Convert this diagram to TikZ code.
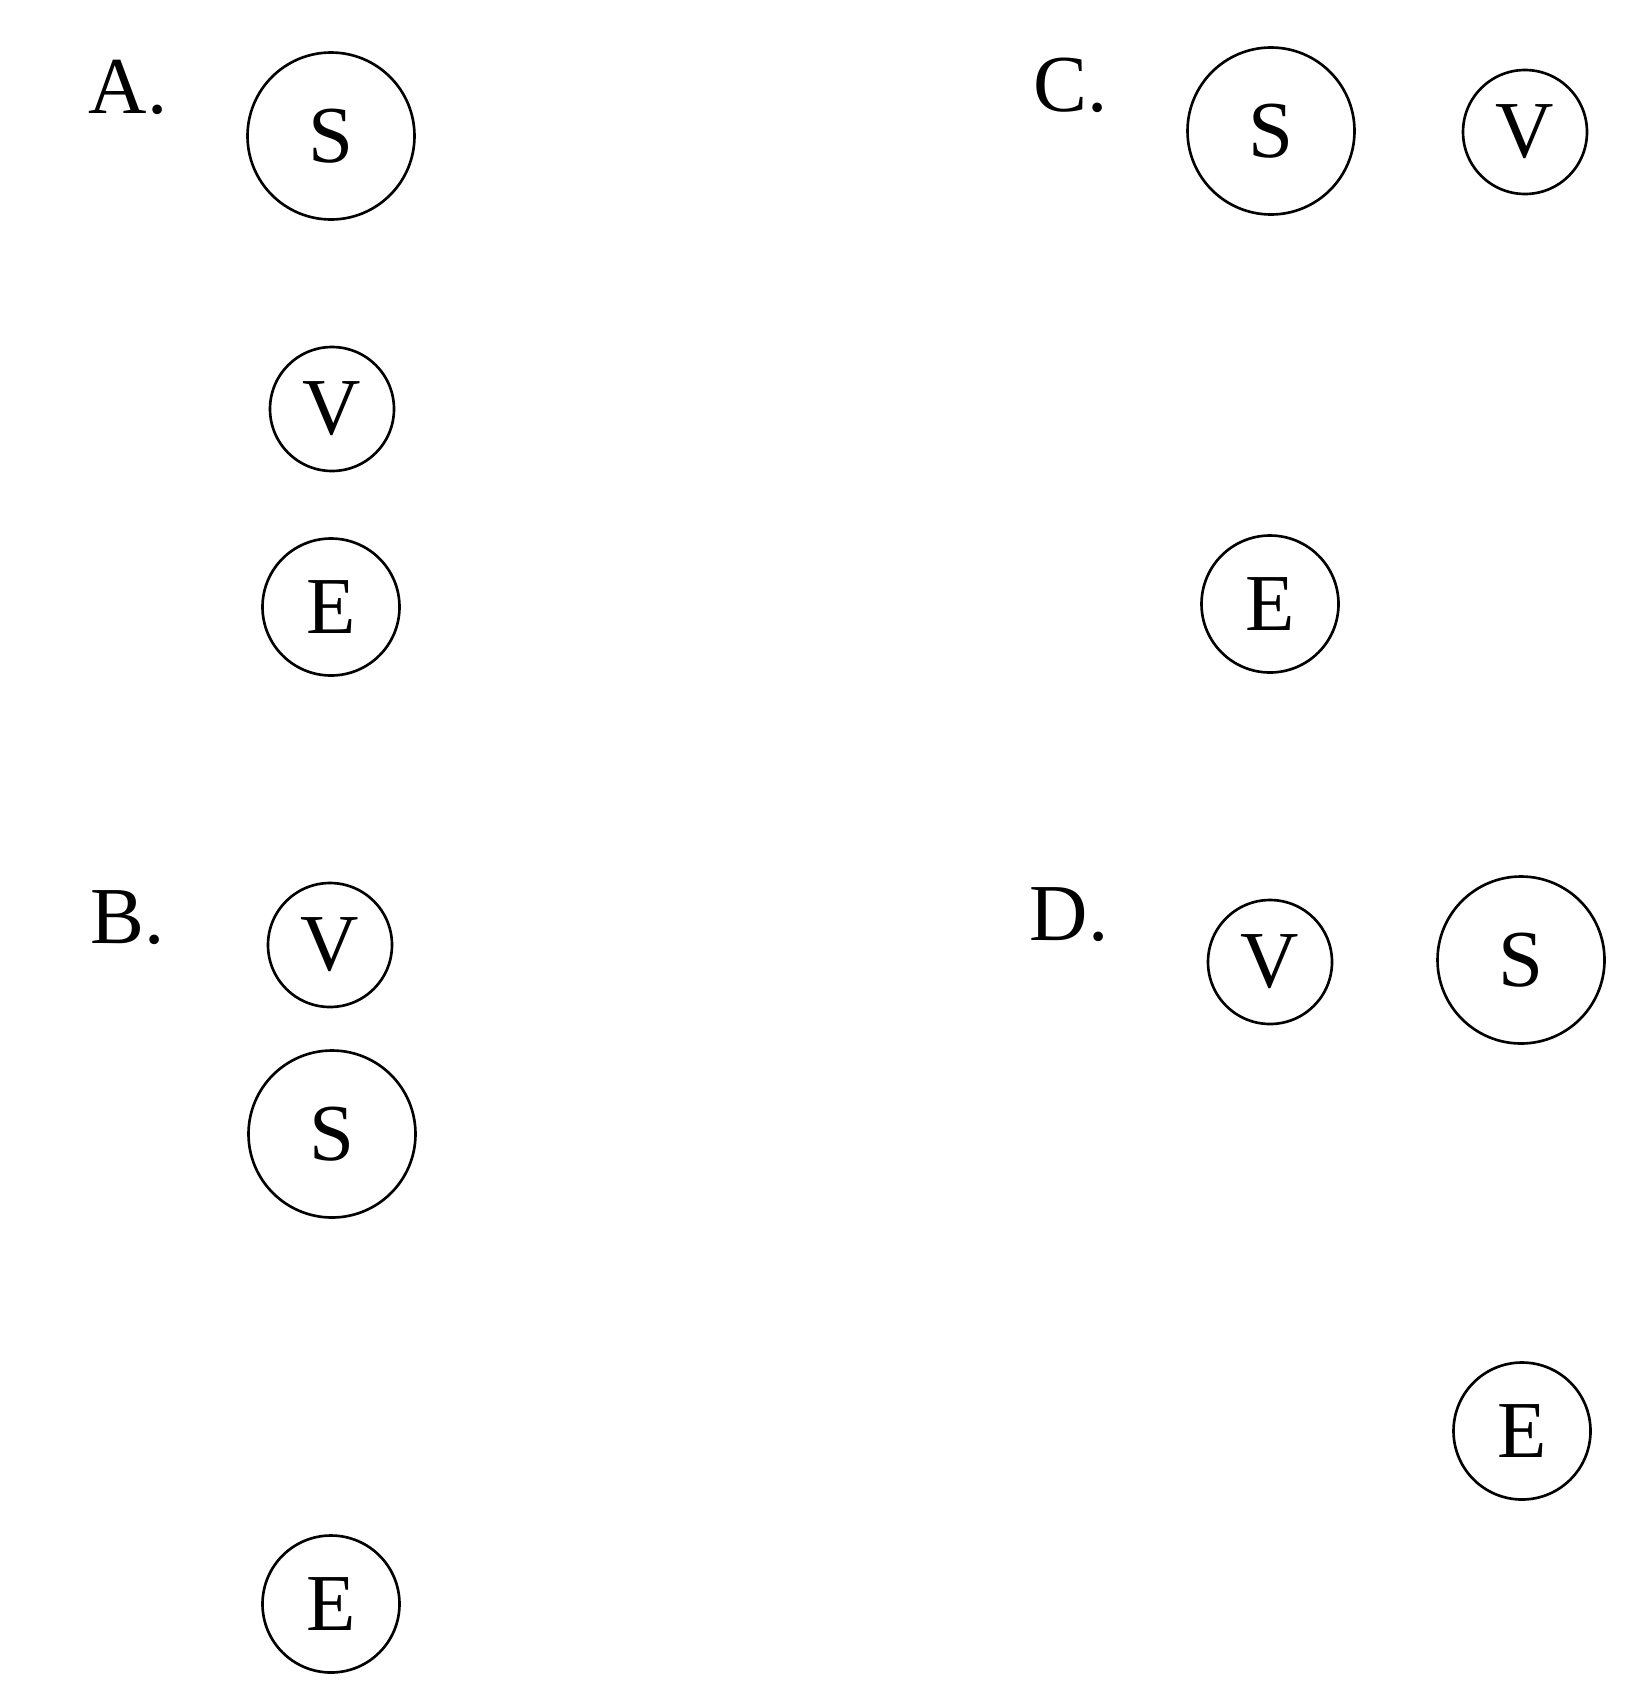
\documentclass[tikz,border=0pt]{standalone}
\usepackage{fontspec}
\setmainfont{Liberation Serif}
\begin{document}
\begin{tikzpicture}[x=1cm,y=1cm,
  every node/.style={font=\fontsize{23}{26}\selectfont},
  sbig/.style={draw, circle, line width=0.75pt, inner sep=0pt, minimum size=1.67cm},
  vsmall/.style={draw, circle, line width=0.75pt, inner sep=0pt, minimum size=1.24cm},
  emid/.style={draw, circle, line width=0.75pt, inner sep=0pt, minimum size=1.37cm},
  tag/.style={anchor=base west, inner sep=0pt}]
\useasboundingbox (0,0) rectangle (16.52,-17.03);
% A
\node[tag] (ta) at (0.88,-1.13) {A.};
\node[sbig] (sa) at (3.31,-1.36) {S};
\node[vsmall] (va) at (3.32,-4.09) {V};
\node[emid] (ea) at (3.31,-6.07) {E};
% B
\node[tag] (tb) at (0.90,-9.43) {B.};
\node[vsmall] (vb) at (3.30,-9.45) {V};
\node[sbig] (sb) at (3.32,-11.34) {S};
\node[emid] (eb) at (3.31,-16.04) {E};
% C
\node[tag] (tc) at (10.33,-1.12) {C.};
\node[sbig] (sc) at (12.71,-1.31) {S};
\node[vsmall] (vc) at (15.25,-1.32) {V};
\node[emid] (ec) at (12.70,-6.04) {E};
% D
\node[tag] (td) at (10.29,-9.40) {D.};
\node[vsmall] (vd) at (12.70,-9.62) {V};
\node[sbig] (sd) at (15.21,-9.60) {S};
\node[emid] (ed) at (15.22,-14.31) {E};
\end{tikzpicture}
\end{document}
